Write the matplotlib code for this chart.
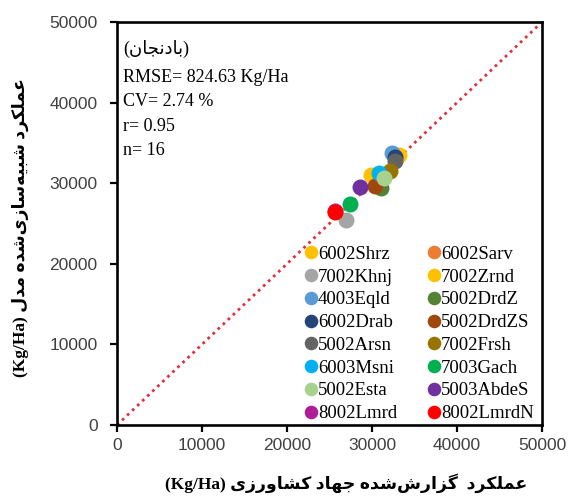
import matplotlib
matplotlib.use("Agg")
import matplotlib.pyplot as plt

# --- داده‌ها (خوانده شده از تصویر) ---
stations = ['6002Shrz', '6002Sarv', '7002Khnj', '7002Zrnd', '4003Eqld', '5002DrdZ',
            '6002Drab', '5002DrdZS', '5002Arsn', '7002Frsh', '6003Msni', '7003Gach',
            '5002Esta', '5003AbdeS', '8002Lmrd', '8002LmrdN']
observed = [33200, 32700, 26950, 29900, 32300, 31050,
            32750, 30300, 32650, 32150, 30800, 27400,
            31450, 28600, 25700, 25650]
simulated = [33500, 33200, 25400, 31050, 33700, 29450,
             33200, 29650, 32700, 31550, 31250, 27450,
             30700, 29550, 26500, 26450]
colors = ['#FFC000', '#ED7D31', '#A5A5A5', '#FFC000', '#5B9BD5', '#548235',
          '#264478', '#9E480E', '#636363', '#997300', '#00B0F0', '#00B050',
          '#A9D18E', '#7030A0', '#AE1C96', '#FF0000']
ticks = [0, 10000, 20000, 30000, 40000, 50000]
stats_lines = ['RMSE= 824.63 Kg/Ha', 'CV= 2.74 %', 'r= 0.95', 'n= 16']

title_fa = 'بادنجان'
xlabel_fa = 'عملکرد  گزارش\u200cشده جهاد کشاورزی'
ylabel_fa = 'عملکرد شبیه\u200cسازی\u200cشده مدل'

# شکل‌دهی ساده حروف فارسی (matplotlib اتصال حروف را انجام نمی‌دهد)
FORMS = {
    'ا': ('\uFE8D', '\uFE8E', '\uFE8D', '\uFE8E'),
    'ب': ('\uFE8F', '\uFE90', '\uFE91', '\uFE92'),
    'ج': ('\uFE9D', '\uFE9E', '\uFE9F', '\uFEA0'),
    'د': ('\uFEA9', '\uFEAA', '\uFEA9', '\uFEAA'),
    'ر': ('\uFEAD', '\uFEAE', '\uFEAD', '\uFEAE'),
    'ز': ('\uFEAF', '\uFEB0', '\uFEAF', '\uFEB0'),
    'س': ('\uFEB1', '\uFEB2', '\uFEB3', '\uFEB4'),
    'ش': ('\uFEB5', '\uFEB6', '\uFEB7', '\uFEB8'),
    'ع': ('\uFEC9', '\uFECA', '\uFECB', '\uFECC'),
    'ل': ('\uFEDD', '\uFEDE', '\uFEDF', '\uFEE0'),
    'م': ('\uFEE1', '\uFEE2', '\uFEE3', '\uFEE4'),
    'ن': ('\uFEE5', '\uFEE6', '\uFEE7', '\uFEE8'),
    'ه': ('\uFEE9', '\uFEEA', '\uFEEB', '\uFEEC'),
    'و': ('\uFEED', '\uFEEE', '\uFEED', '\uFEEE'),
    'ک': ('\uFB8E', '\uFB8F', '\uFB90', '\uFB91'),
    'گ': ('\uFB92', '\uFB93', '\uFB94', '\uFB95'),
    'ی': ('\uFBFC', '\uFBFD', '\uFBFE', '\uFBFF'),
}
DUAL = set('بجسشعلمنهکگی')
RIGHT = set('ادرزو')


def shape_fa(s):
    out = []
    for i, c in enumerate(s):
        if c not in FORMS:
            out.append(c)
            continue
        prev = s[i - 1] if i > 0 else ''
        nxt = s[i + 1] if i + 1 < len(s) else ''
        jp = prev in DUAL
        jn = c in DUAL and (nxt in DUAL or nxt in RIGHT)
        f = FORMS[c]
        if jp and jn:
            out.append(f[3])
        elif jp:
            out.append(f[1])
        elif jn:
            out.append(f[2])
        else:
            out.append(f[0])
    return ''.join(ch for ch in out if ch != '\u200c')[::-1]


serif = ['Liberation Serif', 'DejaVu Sans']

fig = plt.figure(figsize=(5.7, 4.96), dpi=100)
ax = fig.add_axes([117 / 570, 71 / 496, 425 / 570, 403 / 496])

ax.plot([0, 50000], [0, 50000], linestyle=(0, (1, 1.5)), color='#E0303A', lw=2, zorder=1)

handles = []
for name, xo, ys, c in zip(stations, observed, simulated, colors):
    h, = ax.plot(xo, ys, 'o', color=c, markersize=11.5, markeredgewidth=0, label=name, zorder=3)
    handles.append(h)

ax.set_xlim(0, 50000)
ax.set_ylim(0, 50000)
ax.set_xticks(ticks)
ax.set_yticks(ticks)
for sp in ax.spines.values():
    sp.set_linewidth(1.9)
    sp.set_color('black')
ax.tick_params(axis='both', direction='out', length=5, width=1.6, color='black',
               labelcolor='#404040', labelsize=12.5)
ax.tick_params(axis='x', pad=4)
ax.tick_params(axis='y', pad=9)
for lab in ax.get_xticklabels() + ax.get_yticklabels():
    lab.set_family('Liberation Sans')

# لژند ردیفی مثل اکسل
order = handles[0::2] + handles[1::2]
leg = ax.legend(order, [h.get_label() for h in order], ncol=2, loc='lower left',
                bbox_to_anchor=(0.404, -0.035), frameon=False,
                handlelength=0.6, handletextpad=0.05, columnspacing=1.7,
                labelspacing=0.3, markerscale=0.85,
                prop={'family': 'Liberation Serif', 'size': 13.5})

# متن آماره‌ها
ax.text(0.014, 0.933, '(' + shape_fa(title_fa) + ')', transform=ax.transAxes,
        ha='left', va='center', fontsize=13, family=serif)
ys_txt = [0.862, 0.802, 0.741, 0.681]
for t, yy in zip(stats_lines, ys_txt):
    ax.text(0.014, yy, t, transform=ax.transAxes, ha='left', va='center',
            fontsize=13, family='Liberation Serif')

fig.text(346 / 570, 1 - 483 / 496, '(Kg/Ha) ' + shape_fa(xlabel_fa), ha='center', va='center',
         fontsize=12.5, fontweight='bold', family=serif)
fig.text(20 / 570, 1 - 228 / 496, '(Kg/Ha) ' + shape_fa(ylabel_fa), ha='center', va='center',
         rotation=90, fontsize=12.5, fontweight='bold', family=serif)

fig.savefig('out.png', dpi=100)
